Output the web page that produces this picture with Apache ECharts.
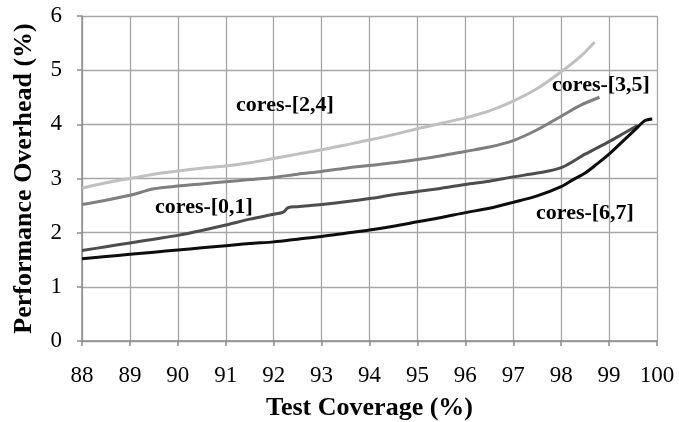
<!DOCTYPE html>
<html>
<head>
<meta charset="utf-8">
<script src="https://cdn.jsdelivr.net/npm/echarts@6/dist/echarts.min.js"></script>
<style>html,body{margin:0;padding:0;background:#fff}#c{width:679px;height:422px}</style>
</head>
<body>
<div id="c"></div>
<script>
// Data
const xTicks = [88, 89, 90, 91, 92, 93, 94, 95, 96, 97, 98, 99, 100];
const yTicks = [0, 1, 2, 3, 4, 5, 6];

const cores24X = [88, 88.5, 89, 89.5, 90, 90.5, 91, 91.5, 92, 92.5, 93, 93.5, 94, 94.5, 95, 95.5, 96, 96.5, 97, 97.5, 98, 98.4, 98.7];
const cores24Y = [2.82, 2.92, 3.0, 3.08, 3.14, 3.19, 3.23, 3.29, 3.37, 3.45, 3.53, 3.62, 3.71, 3.81, 3.92, 4.02, 4.12, 4.25, 4.43, 4.66, 4.97, 5.25, 5.52];

const cores35X = [88, 88.5, 89, 89.5, 90, 90.5, 91, 91.5, 92, 92.5, 93, 93.5, 94, 94.5, 95, 95.5, 96, 96.5, 97, 97.5, 98, 98.4, 98.8];
const cores35Y = [2.52, 2.6, 2.69, 2.81, 2.86, 2.9, 2.94, 2.98, 3.02, 3.08, 3.13, 3.19, 3.24, 3.29, 3.35, 3.42, 3.5, 3.58, 3.7, 3.9, 4.15, 4.35, 4.5];

const cores01X = [88, 88.5, 89, 89.5, 90, 90.5, 91, 91.5, 92, 92.2, 92.3, 92.5, 93, 93.5, 94, 94.5, 95, 95.5, 96, 96.5, 97, 97.5, 98, 98.5, 99, 99.3, 99.6];
const cores01Y = [1.67, 1.74, 1.81, 1.88, 1.95, 2.04, 2.14, 2.25, 2.34, 2.38, 2.46, 2.48, 2.52, 2.57, 2.63, 2.7, 2.76, 2.82, 2.89, 2.95, 3.03, 3.1, 3.2, 3.45, 3.68, 3.83, 3.98];

const cores67X = [88, 88.5, 89, 89.5, 90, 90.5, 91, 91.5, 92, 92.5, 93, 93.5, 94, 94.5, 95, 95.5, 96, 96.5, 97, 97.5, 98, 98.25, 98.5, 98.75, 99, 99.3, 99.6, 99.75, 99.9];
const cores67Y = [1.52, 1.56, 1.6, 1.64, 1.68, 1.72, 1.76, 1.8, 1.83, 1.88, 1.93, 1.99, 2.05, 2.12, 2.2, 2.28, 2.37, 2.45, 2.56, 2.68, 2.85, 2.98, 3.1, 3.27, 3.45, 3.7, 3.95, 4.07, 4.1];

const seriesNames = ['cores-[2,4]', 'cores-[3,5]', 'cores-[0,1]', 'cores-[6,7]'];

function pairs(xs, ys) { return xs.map((x, i) => [x, ys[i]]); }

const FONT = '"Liberation Serif", "Times New Roman", serif';
const chart = echarts.init(document.getElementById('c'), null, { renderer: 'canvas' });

function mk(name, xs, ys, color) {
  return {
    name: name, type: 'line', data: pairs(xs, ys), showSymbol: false, symbol: 'none',
    smooth: 0.3, lineStyle: { color: color, width: 3 }, itemStyle: { color: color }, z: 3
  };
}

chart.setOption({
  animation: false,
  backgroundColor: '#fff',
  grid: { left: 82, right: 22, top: 16, bottom: 81, containLabel: false, outerBoundsMode: 'none' },
  xAxis: {
    type: 'value', min: xTicks[0], max: xTicks[xTicks.length - 1], interval: 1,
    name: 'Test Coverage (%)', nameLocation: 'middle', nameGap: 54,
    nameTextStyle: { fontFamily: FONT, fontWeight: 'bold', fontSize: 26, color: '#000' },
    axisLine: { show: true, lineStyle: { color: '#8c8c8c', width: 1.5 } },
    axisTick: { show: true, length: 5, lineStyle: { color: '#8c8c8c', width: 1.5 } },
    axisLabel: { fontFamily: FONT, fontSize: 23, color: '#000', margin: 23 },
    splitLine: { show: true, lineStyle: { color: '#a6a6a6', width: 1.3 } }
  },
  yAxis: {
    type: 'value', min: yTicks[0], max: yTicks[yTicks.length - 1], interval: 1,
    name: 'Performance Overhead (%)', nameLocation: 'middle', nameGap: 45,
    nameTextStyle: { fontFamily: FONT, fontWeight: 'bold', fontSize: 26, color: '#000' },
    axisLine: { show: true, lineStyle: { color: '#8c8c8c', width: 1.5 } },
    axisTick: { show: true, length: 5, lineStyle: { color: '#8c8c8c', width: 1.5 } },
    axisLabel: { fontFamily: FONT, fontSize: 23, color: '#000', margin: 20 },
    splitLine: { show: true, lineStyle: { color: '#a6a6a6', width: 1.3 } }
  },
  series: [
    mk(seriesNames[0], cores24X, cores24Y, '#c0c0c0'),
    mk(seriesNames[1], cores35X, cores35Y, '#7f7f7f'),
    mk(seriesNames[2], cores01X, cores01Y, '#4d4d4d'),
    mk(seriesNames[3], cores67X, cores67Y, '#0d0d0d')
  ],
  graphic: [
    { type: 'text', left: 236, top: 94, z: 10, style: { text: seriesNames[0], font: 'bold 22px ' + FONT, fill: '#000' } },
    { type: 'text', left: 552, top: 74, z: 10, style: { text: seriesNames[1], font: 'bold 22px ' + FONT, fill: '#000' } },
    { type: 'text', left: 155, top: 196, z: 10, style: { text: seriesNames[2], font: 'bold 22px ' + FONT, fill: '#000' } },
    { type: 'text', left: 536, top: 202, z: 10, style: { text: seriesNames[3], font: 'bold 22px ' + FONT, fill: '#000' } }
  ]
});
</script>
</body>
</html>
